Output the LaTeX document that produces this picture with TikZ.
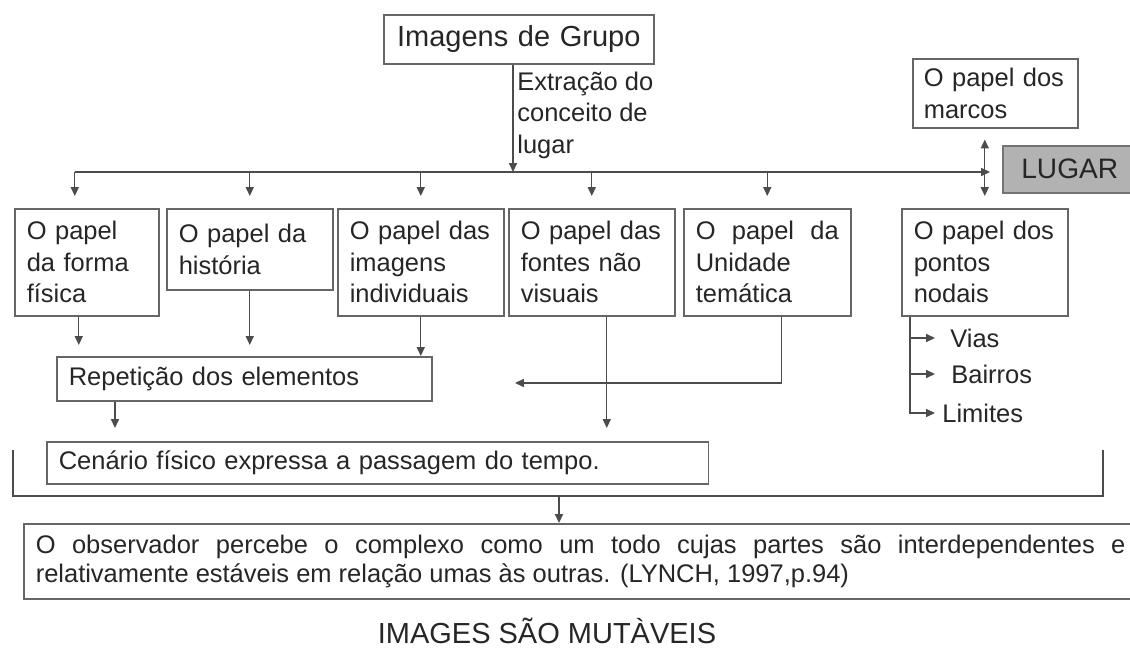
\documentclass[tikz,border=0pt]{standalone}
\usepackage{fontspec}
\setmainfont{Liberation Sans}
\usetikzlibrary{arrows.meta, positioning}

\begin{document}
\begin{tikzpicture}[
        x=0.02cm, y=-0.02cm,
        caixa/.style={draw=black!60, line width=0.9pt, anchor=north west, align=left,
            inner xsep=0.24cm, inner ysep=0pt, text=black!85,
            font=\fontsize{14.5}{17.9}\selectfont},
        rotulo/.style={anchor=west, inner sep=0pt, align=left, text=black!85,
            font=\fontsize{14.5}{17.9}\selectfont},
        linha/.style={draw=black!70, line width=0.8pt},
        seta/.style={linha, -{Triangle[length=5pt, width=4.5pt]}},
    ]
        \useasboundingbox (0,0) rectangle (1130,651);

        \node[caixa, text width=4.92cm, minimum height=0.98cm, align=center,
            font=\fontsize{16.5}{20}\selectfont] (grupo) at (383,14) {Imagens de Grupo};
        \node[rotulo] (extracao) at (517,115) {Extração do\\conceito de\\lugar};
        \node[caixa, inner xsep=0.22cm, text width=2.86cm, minimum height=1.38cm] (marcos) at (912,58) {O papel dos\\marcos};
        \node[caixa, fill=black!30, draw=black!55, text width=2.2cm, minimum height=0.94cm, align=center,
            font=\fontsize{16}{20}\selectfont] (lugar) at (1002,145) {LUGAR};

        \node[caixa, text width=2.4cm, minimum height=2.14cm] (forma) at (14,208) {O papel\\da forma\\física};
        \node[caixa, text width=2.84cm, minimum height=1.62cm] (historia) at (166,208) {O papel da\\história};
        \node[caixa, text width=2.84cm, minimum height=2.14cm] (individuais) at (337,208) {O papel das\\imagens\\individuais};
        \node[caixa, text width=2.84cm, minimum height=2.14cm] (fontes) at (508,208) {O papel das\\fontes não\\visuais};
        \node[caixa, text width=2.86cm, minimum height=2.14cm] (unidade) at (683,208) {O\hfill papel\hfill da\\Unidade\\temática};
        \node[caixa, text width=2.84cm, minimum height=2.14cm] (nodais) at (901,208) {O papel dos\\pontos\\nodais};

        \node[rotulo] (vias) at (950,338) {Vias};
        \node[rotulo] (bairros) at (951,374) {Bairros};
        \node[rotulo] (limites) at (942,413) {Limites};

        \node[caixa, text width=7.02cm, minimum height=0.88cm] (repeticao) at (56,356) {Repetição dos elementos};
        \node[caixa, text width=12.76cm, minimum height=0.84cm] (cenario) at (46,441) {Cenário físico expressa a passagem do tempo.};
        \node[caixa, text width=21.8cm, minimum height=1.5cm, align=justify,
            font=\fontsize{14.5}{16.5}\selectfont] (observador) at (23,523)
            {O observador percebe o complexo como um todo cujas partes são interdependentes e\linebreak
            relativamente estáveis em relação umas às outras. (LYNCH, 1997,p.94)};

        \node[text=black!85, inner sep=0pt, font=\fontsize{16.5}{20}\selectfont] (titulo) at (547,631) {IMAGES SÃO MUTÀVEIS};

        \coordinate (barra) at (513,172);
        \coordinate (f1) at ([xshift=-0.24cm]forma.north);
        \draw[seta, shorten >=0.24cm] (f1 |- barra) -- (barra -| lugar.west);
        \draw[seta] (barra |- grupo.south) -- (barra);
        \draw[seta, shorten >=0.24cm] (f1 |- barra) -- (f1);
        \draw[seta, shorten >=0.24cm] (historia.north |- barra) -- (historia.north);
        \draw[seta, shorten >=0.24cm] (individuais.north |- barra) -- (individuais.north);
        \draw[seta, shorten >=0.24cm] (fontes.north |- barra) -- (fontes.north);
        \draw[seta, shorten >=0.24cm] (unidade.north |- barra) -- (unidade.north);
        \draw[seta, shorten >=0.24cm] (nodais.north |- barra) -- (nodais.north);
        \draw[seta, shorten >=0.22cm] (nodais.north |- barra) -- (nodais.north |- marcos.south);

        \coordinate (f2) at ([xshift=-0.16cm]forma.south);
        \draw[seta, shorten >=0.22cm] (f2) -- (f2 |- repeticao.north);
        \draw[seta, shorten >=0.22cm] (historia.south) -- (historia.south |- repeticao.north);
        \draw[seta] (individuais.south) -- (individuais.south |- repeticao.north);
        \coordinate (f4) at ([xshift=0.3cm]fontes.south);
        \draw[seta, shorten >=0.26cm] (f4) -- (f4 |- cenario.north);
        \coordinate (f5) at ([xshift=0.29cm]unidade.south);
        \coordinate (retorno) at (515,383);
        \draw[seta] (f5) |- (retorno);
        \coordinate (f6) at ([xshift=1.18cm]repeticao.south west);
        \draw[seta, shorten >=0.26cm] (f6) -- (f6 |- cenario.north);

        \coordinate (ramo) at ([xshift=0.18cm]nodais.south west);
        \draw[seta, shorten >=0.3cm] (ramo) |- (vias.west);
        \draw[seta, shorten >=0.32cm] (ramo) |- (bairros.west);
        \draw[seta, shorten >=0.14cm] (ramo) |- (limites.west);

        \coordinate (colchete-e) at (13,450);
        \coordinate (colchete-d) at (1103,450);
        \coordinate (juncao) at (559,496);
        \draw[linha] (colchete-e) |- (juncao) -| (colchete-d);
        \draw[seta] (juncao) -- (juncao |- observador.north);
    \end{tikzpicture}
\end{document}
